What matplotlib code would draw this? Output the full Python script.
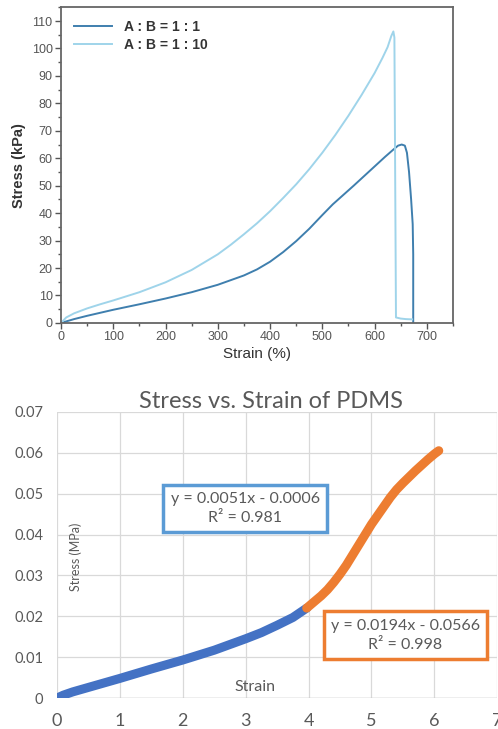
import matplotlib
matplotlib.use("Agg")
import matplotlib.pyplot as plt
from matplotlib.ticker import MultipleLocator, FuncFormatter

# top panel: tensile curves, strain (%) vs stress (kPa)
strain_11 = [0, 25, 50, 75, 100, 150, 200, 250, 300, 350, 375, 400, 425, 450, 475,
             500, 520, 540, 560, 580, 600, 620, 635, 645, 652, 658, 662, 666, 670,
             673, 674, 674]
stress_11 = [0, 1.4, 2.6, 3.7, 4.8, 6.8, 8.9, 11.2, 13.9, 17.3, 19.5, 22.3, 25.8, 29.8, 34.3,
             39.3, 43.2, 46.6, 50.0, 53.5, 57.0, 60.5, 63.0, 64.6, 65.0, 64.6, 62.0, 55.0, 45.0,
             36.0, 25.0, 0]
strain_110 = [0, 10, 25, 50, 75, 100, 150, 200, 250, 300, 325, 350, 375, 400, 425,
              450, 475, 500, 525, 550, 575, 600, 615, 625, 632, 636, 638, 641, 650,
              660, 672]
stress_110 = [0, 2.0, 3.5, 5.3, 6.8, 8.2, 11.2, 14.8, 19.3, 25.0, 28.5, 32.3, 36.3, 40.7, 45.5,
              50.5, 56.0, 62.0, 68.5, 75.5, 83.0, 91.0, 96.5, 100.5, 104.5, 106.2, 104.0, 2.0, 1.6,
              1.4, 1.3]
legend_labels = ["A : B = 1 : 1", "A : B = 1 : 10"]

# bottom panel: PDMS curve split into two linear-fit regions
strain_lin = [0, 0.1, 0.25, 0.5, 0.75, 1.0, 1.5, 2.0, 2.5, 3.0, 3.25, 3.5, 3.75, 3.97]
stress_lin = [0, 0.0007, 0.0015, 0.0026, 0.0037, 0.0048, 0.0071, 0.0093, 0.0117,
              0.0145, 0.016, 0.0178, 0.0197, 0.022]
strain_nl = [3.97, 4.1, 4.2, 4.3, 4.4, 4.5, 4.6, 4.7, 4.8, 4.9, 5.0, 5.1, 5.2, 5.3,
             5.4, 5.5, 5.6, 5.7, 5.8, 5.9, 6.0, 6.07]
stress_nl = [0.022, 0.0237, 0.025, 0.0265, 0.0283, 0.0303, 0.0325, 0.035, 0.0375, 0.04,
             0.0425, 0.0447, 0.0469, 0.0491, 0.051, 0.0526, 0.0541, 0.0556, 0.057, 0.0584,
             0.0597, 0.0605]
fit_lin = "y = 0.0051x - 0.0006\nR² = 0.981"
fit_nl = "y = 0.0194x - 0.0566\nR² = 0.998"

fig = plt.figure(figsize=(4.98, 7.29), dpi=100)

# ---- top (Origin style) ----
ax1 = fig.add_axes([0.1225, 0.557, 0.787, 0.433])
ax1.plot(strain_11, stress_11, color="#3f7fae", lw=1.4, label=legend_labels[0])
ax1.plot(strain_110, stress_110, color="#9fd4ea", lw=1.4, label=legend_labels[1])
ax1.set_xlim(0, 750)
ax1.set_ylim(0, 115)
ax1.xaxis.set_major_locator(MultipleLocator(100))
ax1.xaxis.set_minor_locator(MultipleLocator(50))
ax1.yaxis.set_major_locator(MultipleLocator(10))
ax1.yaxis.set_minor_locator(MultipleLocator(5))
ax1.tick_params(which="major", direction="out", length=4, width=1, color="#555555",
                labelsize=9, labelcolor="#555555", pad=2)
ax1.tick_params(which="minor", direction="out", length=2, width=1, color="#555555")
for lab in ax1.get_xticklabels() + ax1.get_yticklabels():
    lab.set_family("Liberation Sans")
for s in ax1.spines.values():
    s.set_color("#666666")
    s.set_linewidth(1.3)
ax1.set_xlabel("Strain (%)", fontsize=11, color="#333333", family="Liberation Sans", labelpad=3)
ax1.set_ylabel("Stress (kPa)", fontsize=10.5, color="#333333", fontweight="bold",
               family="Liberation Sans", labelpad=4)
leg = ax1.legend(loc="upper left", frameon=False, fontsize=10, handlelength=2.8,
                 borderaxespad=0.5, labelspacing=0.3, prop={"family": "Liberation Sans",
                                                            "weight": "bold", "size": 10})
for t in leg.get_texts():
    t.set_color("#333333")

# ---- bottom (Excel style) ----
ax2 = fig.add_axes([0.1145, 0.0425, 0.884, 0.3925])
ax2.plot(strain_lin, stress_lin, color="#4472c4", lw=6.5, solid_capstyle="round", zorder=3)
ax2.plot(strain_nl, stress_nl, color="#ed7d31", lw=6.5, solid_capstyle="round", zorder=3)
ax2.set_xlim(0, 7)
ax2.set_ylim(0, 0.07)
ax2.xaxis.set_major_locator(MultipleLocator(1))
ax2.yaxis.set_major_locator(MultipleLocator(0.01))
ax2.yaxis.set_major_formatter(FuncFormatter(lambda v, p: "0" if abs(v) < 1e-9 else f"{v:.2f}"))
ax2.grid(True, color="#d9d9d9", lw=0.9)
ax2.set_axisbelow(True)
for s in ax2.spines.values():
    s.set_visible(False)
ax2.axhline(0, color="#bfbfbf", lw=1, zorder=1)
ax2.tick_params(axis="both", length=0, labelcolor="#595959")
ax2.tick_params(axis="x", labelsize=13, pad=11)
ax2.tick_params(axis="y", labelsize=10.5, pad=10)
for lab in ax2.get_xticklabels() + ax2.get_yticklabels():
    lab.set_family("Lato")
ax2.set_title("Stress vs. Strain of PDMS", fontsize=17, color="#595959",
              family="Lato", x=0.485, pad=1)
ax2.text(0.30, 0.0345, "Stress (MPa)", rotation=90, fontsize=9, color="#595959",
         family="Lato", ha="center", va="center")
ax2.text(3.15, 0.0027, "Strain", fontsize=11.5, color="#595959", family="Lato",
         ha="center", va="center")
ax2.text(2.99, 0.0463, fit_lin, fontsize=11.5, color="#595959", family="Lato",
         ha="center", va="center", linespacing=1.45,
         bbox=dict(boxstyle="square,pad=0.45", fc="white", ec="#5b9bd5", lw=2.5))
ax2.text(5.54, 0.0154, fit_nl, fontsize=11.5, color="#595959", family="Lato",
         ha="center", va="center", linespacing=1.45,
         bbox=dict(boxstyle="square,pad=0.45", fc="white", ec="#ed7d31", lw=2.5))

fig.savefig("out.png", dpi=100)
